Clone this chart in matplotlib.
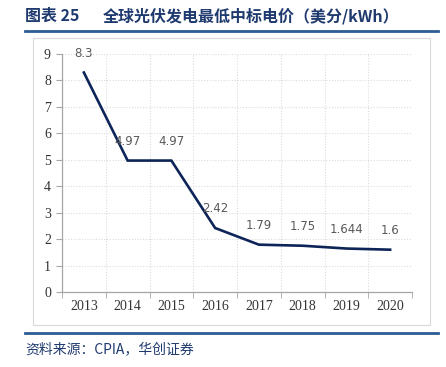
import matplotlib
matplotlib.use("Agg")
import matplotlib.pyplot as plt
from matplotlib.patches import Rectangle
from matplotlib.lines import Line2D

# data
years = ["2013", "2014", "2015", "2016", "2017", "2018", "2019", "2020"]
prices = [8.3, 4.97, 4.97, 2.42, 1.79, 1.75, 1.644, 1.6]
price_labels = ["8.3", "4.97", "4.97", "2.42", "1.79", "1.75", "1.644", "1.6"]
yticks = [0, 1, 2, 3, 4, 5, 6, 7, 8, 9]

title_left = "图表 25"
title_right = "全球光伏发电最低中标电价（美分/kWh）"
source_text = "资料来源：CPIA，华创证券"

W, H = 446, 367
fig = plt.figure(figsize=(W / 100, H / 100), dpi=100)
cjk = ["Noto Sans CJK SC", "DejaVu Sans"]

# outer chart box
fig.add_artist(Rectangle((33 / W, 1 - 325 / H), (430 - 33) / W, (325 - 38) / H,
                         transform=fig.transFigure, fill=False,
                         edgecolor="#d9d9d9", linewidth=0.8))

# blue rules under title and above source
blue = "#2e5c94"
fig.add_artist(Line2D([25 / W, 438 / W], [1 - 30.5 / H, 1 - 30.5 / H],
                      transform=fig.transFigure, color=blue, linewidth=2))
fig.add_artist(Line2D([25 / W, 438 / W], [1 - 333 / H, 1 - 333 / H],
                      transform=fig.transFigure, color=blue, linewidth=2))

fig.text(25 / W, 1 - 16 / H, title_left, ha="left", va="center",
         fontsize=11.5, fontweight="bold", color="#1f3a6e", family=cjk)
fig.text(103 / W, 1 - 16 / H, title_right, ha="left", va="center",
         fontsize=11.5, fontweight="bold", color="#1f3a6e", family=cjk)
fig.text(25 / W, 1 - 349 / H, source_text, ha="left", va="center",
         fontsize=10, color="#1f3a6e", family=cjk)

ax = fig.add_axes([62 / W, 1 - 292 / H, (412 - 62) / W, (292 - 54) / H])
x = list(range(len(years)))
ax.plot(x, prices, color="#0c2457", linewidth=1.9, solid_joinstyle="miter")

for xi, v, lab in zip(x, prices, price_labels):
    ax.annotate(lab, (xi, v), xytext=(0, 14), textcoords="offset points",
                ha="center", va="center", fontsize=8.5, color="#595959",
                family="DejaVu Sans")

ax.set_xlim(-0.5, len(years) - 0.5)
ax.set_ylim(0, 9)
ax.set_yticks(yticks)
ax.set_yticklabels([str(t) for t in yticks])
ax.set_xticks(x)
ax.set_xticklabels(years)
ax.set_xticks([i - 0.5 for i in range(len(years) + 1)], minor=True)

for lab in ax.get_xticklabels() + ax.get_yticklabels():
    lab.set_family("Liberation Serif")
    lab.set_fontsize(10)
    lab.set_color("#333333")

ax.tick_params(axis="x", which="major", length=0, pad=6)
ax.tick_params(axis="x", which="minor", length=4, color="#a6a6a6", direction="out")
ax.tick_params(axis="y", length=4, color="#a6a6a6", direction="out", pad=4)

ax.grid(axis="y", which="major", linestyle=(0, (1, 1.5)), color="#dcdcdc", linewidth=0.8)
ax.grid(axis="x", which="minor", linestyle=(0, (1, 1.5)), color="#dcdcdc", linewidth=0.8)
ax.set_axisbelow(True)

for s in ["top", "right"]:
    ax.spines[s].set_visible(False)
for s in ["left", "bottom"]:
    ax.spines[s].set_color("#a6a6a6")
    ax.spines[s].set_linewidth(0.9)

fig.savefig("out.png", dpi=100)
